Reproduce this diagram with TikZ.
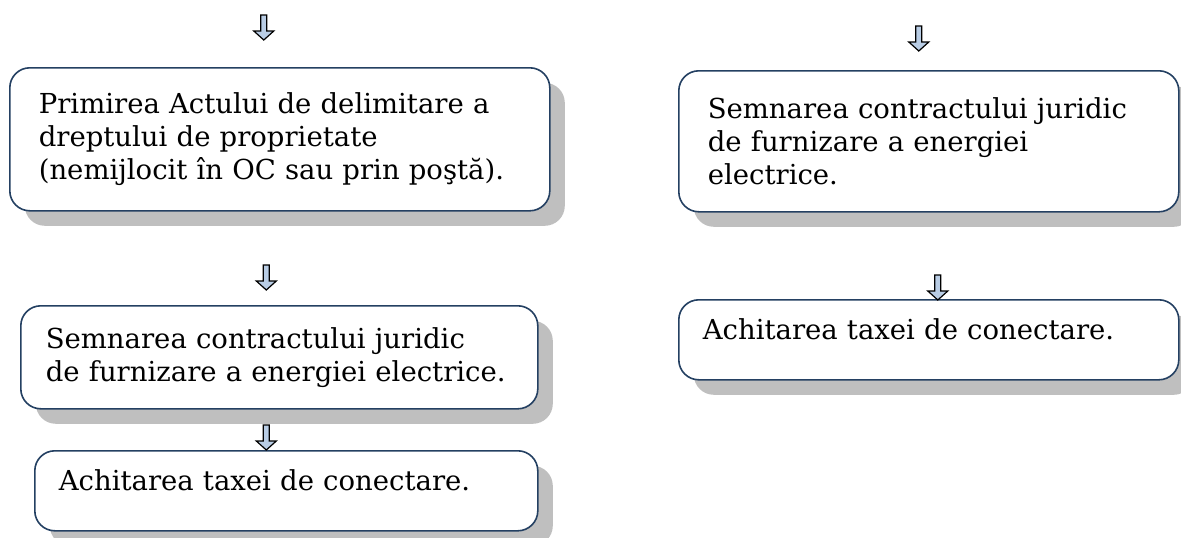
\documentclass[tikz,border=0pt]{standalone}
\usepackage{fontspec}
\setmainfont{DejaVu Serif}
\usetikzlibrary{positioning,shadows}
\definecolor{boxcol}{RGB}{36,64,98}
\definecolor{shadowcol}{RGB}{191,191,191}
\definecolor{arrowcol}{RGB}{185,205,229}

\tikzset{
  stepbox/.style={draw=boxcol, line width=1.6pt, fill=white, rounded corners=20pt,
    anchor=north west, align=left, inner ysep=0pt,
    font=\fontsize{27.5}{33}\selectfont,
    drop shadow={shadow xshift=15pt, shadow yshift=-15pt, fill=shadowcol, opacity=1}},
  downarr/.pic={
    \filldraw[fill=arrowcol, draw=black, line width=1.2pt, line join=miter]
      (-3,-25) -- (3,-25) -- (3,-9) -- (10,-9) -- (0,0) -- (-10,-9) -- (-3,-9) -- cycle;
  }
}

\begin{document}
\begin{tikzpicture}[x=1pt, y=-1pt]
    \useasboundingbox (0,0) rectangle (1181,538);

    % Left column
    \node[stepbox, minimum width=540pt, minimum height=143pt, inner xsep=29pt, text width=482pt]
        (prim) at (9,67) {Primirea Actului de delimitare a\\dreptului de proprietate\\(nemijlocit în OC sau prin poştă).};
    \node[stepbox, minimum width=517pt, minimum height=103pt, inner xsep=25pt, text width=467pt]
        (semnL) at (20,305) {Semnarea contractului juridic\\de furnizare a energiei electrice.};
    \node[stepbox, minimum width=503pt, minimum height=80pt, inner xsep=24pt, text width=455pt, text depth=22pt]
        (achitL) at (34,450) {Achitarea taxei de conectare.};

    % Right column
    \node[stepbox, minimum width=500pt, minimum height=141pt, inner xsep=29pt, text width=442pt]
        (semnR) at (678,70) {Semnarea contractului juridic\\de furnizare a energiei\\electrice.};
    \node[stepbox, minimum width=500pt, minimum height=80pt, inner xsep=24pt, text width=452pt, text depth=22pt]
        (achitR) at (678,299) {Achitarea taxei de conectare.};

    % Block arrows
    \pic at ([xshift=-16pt, yshift=27pt]prim.north) {downarr};
    \pic at ([xshift=-13pt, yshift=15pt]semnL.north) {downarr};
    \pic at ([xshift=-20pt]achitL.north) {downarr};
    \pic at ([xshift=-10pt, yshift=19pt]semnR.north) {downarr};
    \pic at ([xshift=9pt, yshift=-1pt]achitR.north) {downarr};

\end{tikzpicture}
\end{document}
